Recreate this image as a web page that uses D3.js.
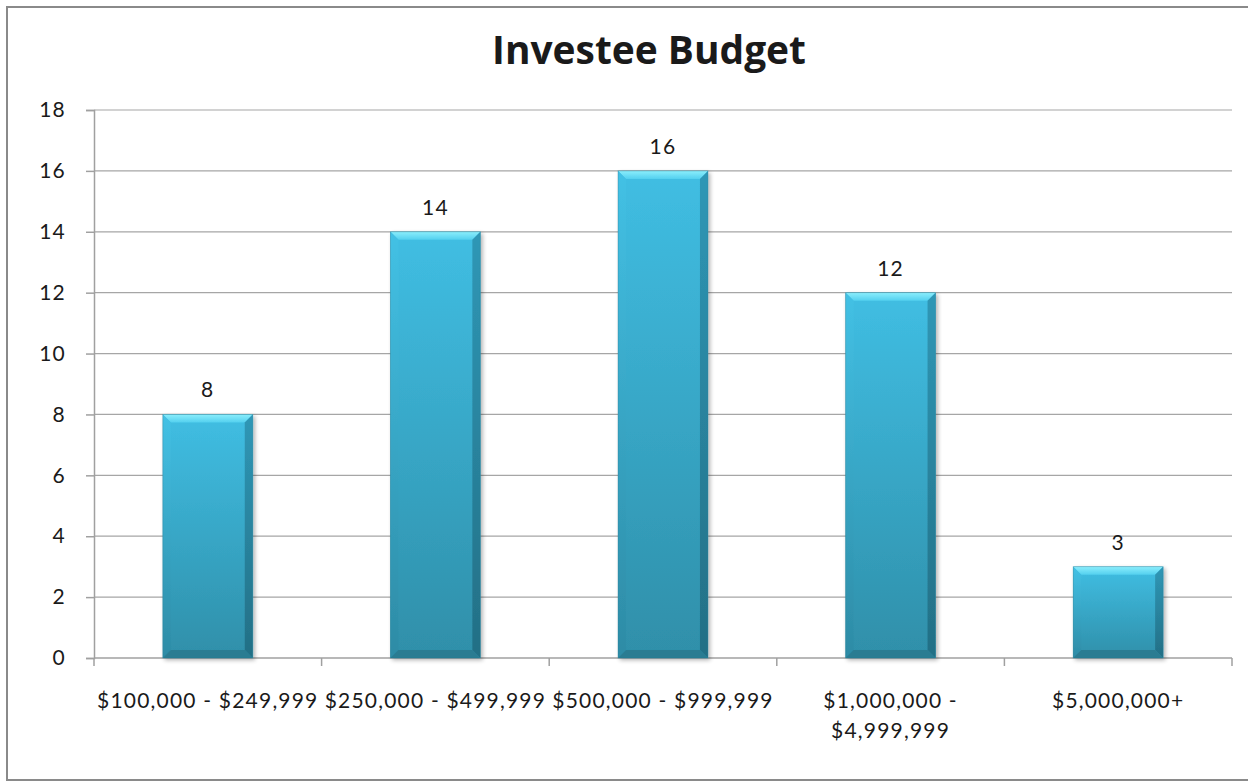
<!DOCTYPE html>
<html>
<head>
<meta charset="utf-8">
<script src="https://cdn.jsdelivr.net/npm/d3@7"></script>
<style>
  html, body { margin: 0; padding: 0; background: #fff; }
  svg { display: block; }
  text { font-family: Lato, "Open Sans", sans-serif; fill: #1a1a1a; }
</style>
</head>
<body>
<svg id="chart" width="1248" height="782"></svg>
<script>
// Budget bands of investees and how many fall into each
const categories = [
  ["$100,000 - $249,999"],
  ["$250,000 - $499,999"],
  ["$500,000 - $999,999"],
  ["$1,000,000 -", "$4,999,999"],
  ["$5,000,000+"]
];
const counts = [8, 14, 16, 12, 3];
const yTicks = [0, 2, 4, 6, 8, 10, 12, 14, 16, 18];
const title = "Investee Budget";

const svg = d3.select("#chart");
const W = 1248, H = 782;
const m = { left: 94, right: 16, top: 110, bottom: 124 };
const labelFont = "21px";
const labelSpacing = "1.2px";

// outer frame
svg.append("rect")
  .attr("x", 7).attr("y", 7)
  .attr("width", W + 10).attr("height", 773)
  .attr("fill", "none").attr("stroke", "#8a8a8a").attr("stroke-width", 2);

const keys = categories.map((c, i) => i);
const x = d3.scaleBand().domain(keys).range([m.left, W - m.right]).padding(0);
const y = d3.scaleLinear().domain([0, 18]).range([H - m.bottom, m.top]);

// defs: gradients for bevelled bars
const defs = svg.append("defs");
function vGrad(id, top, bottom) {
  const g = defs.append("linearGradient").attr("id", id)
    .attr("x1", 0).attr("y1", 0).attr("x2", 0).attr("y2", 1);
  g.append("stop").attr("offset", "0%").attr("stop-color", top);
  g.append("stop").attr("offset", "100%").attr("stop-color", bottom);
}
vGrad("face", "#40bee3", "#2f8fa9");
vGrad("sideL", "#43c1e5", "#2d8ba5");
vGrad("sideR", "#2f97b6", "#236f85");
vGrad("topBev", "#8beefc", "#54d0ef");

const shadow = defs.append("filter").attr("id", "shadow")
  .attr("x", "-10%").attr("y", "-10%").attr("width", "130%").attr("height", "130%");
shadow.append("feGaussianBlur").attr("in", "SourceAlpha").attr("stdDeviation", 2.2);
shadow.append("feOffset").attr("dx", 1.5).attr("dy", 1.5).attr("result", "b");
shadow.append("feComponentTransfer").append("feFuncA").attr("type", "linear").attr("slope", 0.3);
const mg = shadow.append("feMerge");
mg.append("feMergeNode");
mg.append("feMergeNode").attr("in", "SourceGraphic");

// gridlines
svg.append("g").selectAll("line").data(yTicks.filter(t => t > 0)).join("line")
  .attr("x1", m.left).attr("x2", W - m.right)
  .attr("y1", d => y(d)).attr("y2", d => y(d))
  .attr("stroke", "#a6a6a6").attr("stroke-width", 1.2);

// y axis
const yAxis = svg.append("g").attr("transform", `translate(${m.left},0)`)
  .call(d3.axisLeft(y).tickValues(yTicks).tickSize(8).tickPadding(20));
yAxis.select(".domain").attr("stroke", "#a0a0a0").attr("stroke-width", 1.5);
yAxis.selectAll(".tick line").attr("stroke", "#a0a0a0").attr("stroke-width", 1.5);
yAxis.selectAll(".tick text").style("font-size", labelFont)
  .style("letter-spacing", labelSpacing)
  .style("font-family", "Lato, sans-serif").attr("fill", "#1a1a1a");

// x axis baseline with category boundary ticks
const xb = svg.append("g");
xb.append("line").attr("x1", m.left).attr("x2", W - m.right)
  .attr("y1", y(0)).attr("y2", y(0)).attr("stroke", "#a0a0a0").attr("stroke-width", 1.5);
const bounds = keys.map(k => x(k)).concat([x(keys[keys.length - 1]) + x.bandwidth()]);
xb.selectAll("line.tk").data(bounds).join("line").attr("class", "tk")
  .attr("x1", d => d).attr("x2", d => d)
  .attr("y1", y(0)).attr("y2", y(0) + 8)
  .attr("stroke", "#a0a0a0").attr("stroke-width", 1.5);

// bars
const barW = x.bandwidth() * 0.395;
const bev = 8;
const bars = svg.append("g").selectAll("g").data(counts).join("g")
  .attr("filter", "url(#shadow)");
bars.each(function (v, i) {
  const g = d3.select(this);
  const x0 = x(i) + (x.bandwidth() - barW) / 2, x1 = x0 + barW;
  const t = y(v), b = y(0);
  g.append("rect").attr("x", x0).attr("y", t).attr("width", barW).attr("height", b - t)
    .attr("fill", "url(#face)");
  const pts = a => a.map(p => p.join(",")).join(" ");
  // top bevel
  g.append("polygon").attr("points", pts([[x0, t], [x1, t], [x1 - bev, t + bev], [x0 + bev, t + bev]]))
    .attr("fill", "url(#topBev)");
  // left bevel
  g.append("polygon").attr("points", pts([[x0, t], [x0 + bev, t + bev], [x0 + bev, b - bev], [x0, b]]))
    .attr("fill", "url(#sideL)");
  // right bevel
  g.append("polygon").attr("points", pts([[x1, t], [x1, b], [x1 - bev, b - bev], [x1 - bev, t + bev]]))
    .attr("fill", "url(#sideR)");
  // bottom bevel
  g.append("polygon").attr("points", pts([[x0, b], [x1, b], [x1 - bev, b - bev], [x0 + bev, b - bev]]))
    .attr("fill", "#297b92");
  // thin outline
  g.append("rect").attr("x", x0).attr("y", t).attr("width", barW).attr("height", b - t)
    .attr("fill", "none").attr("stroke", "#2a7f97").attr("stroke-width", 0.8).attr("stroke-opacity", 0.5);
});

// value labels
svg.append("g").selectAll("text").data(counts).join("text")
  .attr("x", (d, i) => x(i) + x.bandwidth() / 2)
  .attr("y", d => y(d) - 17)
  .attr("text-anchor", "middle")
  .style("font-size", labelFont)
  .style("letter-spacing", labelSpacing)
  .text(d => d);

// category labels
const cl = svg.append("g").selectAll("text").data(categories).join("text")
  .attr("x", (d, i) => x(i) + x.bandwidth() / 2)
  .attr("y", 708)
  .attr("text-anchor", "middle")
  .style("font-size", labelFont)
  .style("letter-spacing", labelSpacing);
cl.each(function (lines) {
  const tx = d3.select(this);
  lines.forEach((ln, j) => {
    tx.append("tspan").attr("x", tx.attr("x")).attr("dy", j === 0 ? 0 : 30).text(ln);
  });
});

// title, sized to span ~314px
const tt = svg.append("text")
  .attr("x", 649).attr("y", 64)
  .attr("text-anchor", "middle")
  .style("font-family", "'Open Sans', sans-serif")
  .style("font-size", "36px").style("font-weight", "bold")
  .attr("fill", "#000")
  .text(title);
const tw = tt.node().getComputedTextLength();
tt.style("font-size", (36 * 314 / tw).toFixed(1) + "px");
</script>
</body>
</html>
